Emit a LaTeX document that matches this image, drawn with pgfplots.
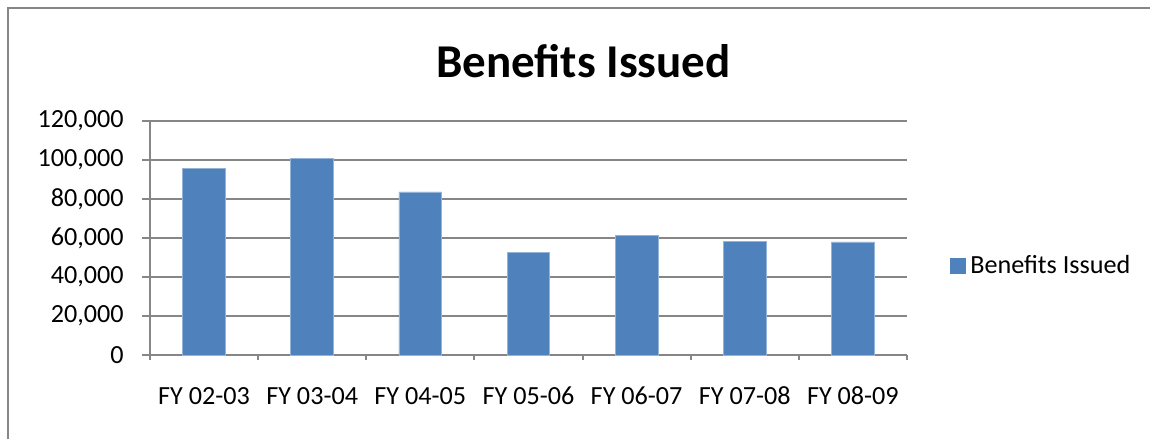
\documentclass[border=0pt]{standalone}
\usepackage{pgfplots}
\pgfplotsset{compat=1.18}
\usepackage{fontspec}
\setmainfont{Carlito}
\definecolor{barblue}{HTML}{4F81BD}
\definecolor{gridgray}{HTML}{868686}
\begin{document}
\begin{tikzpicture}[x=1pt,y=1pt]
\path[use as bounding box] (0,0) rectangle (479.17,182.92);
\draw[gridgray, line width=0.8pt] (3.33,0) -- (3.33,179.6) -- (479.17,179.6);
\begin{axis}[
  at={(62.5pt,35pt)}, anchor=south west,
  scale only axis, width=315.4pt, height=97.5pt,
  xmin=-0.5, xmax=6.5, ymin=0, ymax=120000,
  ytick={0,20000,...,120000},
  scaled y ticks=false,
  yticklabel={\pgfmathprintnumber[fixed, 1000 sep={,}]{\tick}},
  /pgf/number format/assume math mode=true,
  xtick={0,...,6},
  xticklabels={FY 02-03,FY 03-04,FY 04-05,FY 05-06,FY 06-07,FY 07-08,FY 08-09},
  minor xtick={-0.5,0.5,...,6.5},
  major x tick style={draw=none},
  tick align=outside,
  major tick length=3.3pt,
  minor tick length=2.2pt,
  tick style={gridgray, line width=0.8pt},
  axis x line*=bottom, axis y line*=left,
  axis line style={gridgray, line width=0.8pt, -},
  ymajorgrids, grid style={gridgray, line width=0.8pt},
  xticklabel style={anchor=base, yshift=-17.5pt, font=\fontsize{10.9}{12}\selectfont},
  yticklabel style={anchor=east, inner sep=0pt, xshift=-7.5pt, font=\fontsize{10.9}{12}\selectfont},
  legend style={at={(1,0.38)}, anchor=west, xshift=14.7pt, draw=none, fill=none, font=\fontsize{10.9}{12}\selectfont},
  legend image code/.code={\fill[barblue] (0pt,-3.1pt) rectangle (6.2pt,3.1pt);},
]
\addplot[ybar, bar width=0.395, fill=barblue, draw=barblue!60!white, line width=0.3pt] coordinates {
  (0,95700) (1,100900) (2,83600) (3,52700) (4,61400) (5,58300) (6,58000)
};
\addlegendentry{Benefits Issued}
\end{axis}
\node[anchor=base, font=\bfseries\fontsize{19.6}{22}\selectfont] at (243.1,150.8) {Benefits Issued};
\end{tikzpicture}
\end{document}
